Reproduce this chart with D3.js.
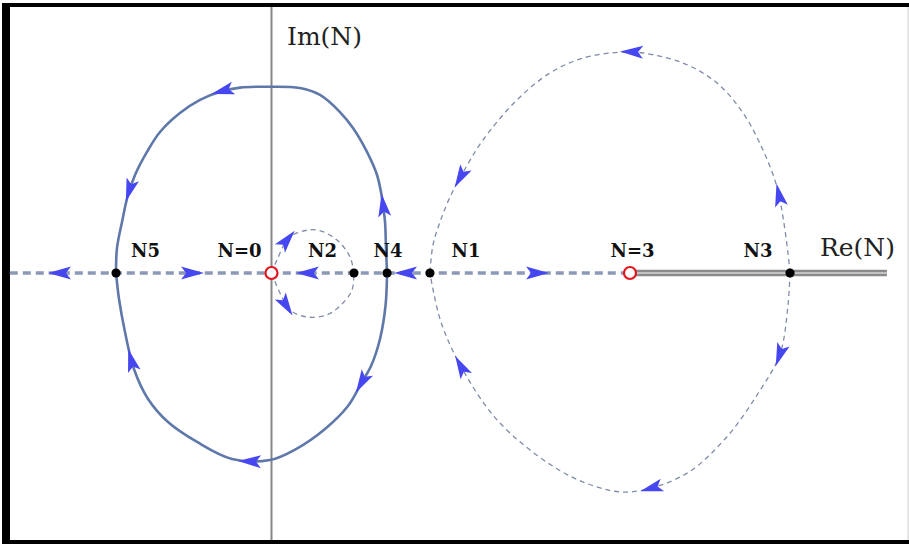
<!DOCTYPE html>
<html>
<head>
<meta charset="utf-8">
<style>
  body { margin: 0; background: #fff; }
  svg { display: block; }
  .lbl { font-family: 'DejaVu Serif', serif; font-weight: bold; font-size: 18px; fill: #111; }
  .axlbl { font-family: 'DejaVu Serif', serif; font-size: 25px; fill: #222; }
  .solid { fill: none; stroke: #5f78aa; stroke-width: 2.6px; }
  .dashed { fill: none; stroke: #7f8ba8; stroke-width: 1.3px; stroke-dasharray: 5 4; }
  .reaxis { fill: none; stroke: #8c99b6; stroke-width: 3.6px; stroke-dasharray: 8 5; }
  .arrow { fill: #4747f2; }
</style>
</head>
<body>
<svg id="chart" width="909" height="544"></svg>
<script src="https://cdn.jsdelivr.net/npm/d3@7/dist/d3.min.js"></script>
<script>
  // points on the real axis (Re(N))
  const fixedNames = ["N5", "N2", "N4", "N1", "N3"];
  const fixedRe = [-1.301, 0.690, 0.967, 1.326, 4.339];
  const poleRe = [0, 3];

  // labels above the axis
  const labelNames = ["N5", "N=0", "N2", "N4", "N1", "N=3", "N3"];
  const labelRe = [-1.054, -0.268, 0.427, 0.975, 1.628, 3.021, 4.071];
  const labelIm = 0.134;

  // flow curves, [Re, Im], ordered in the direction of the flow
  const solidUpper = [[0.967, 0], [0.958, 0.209], [0.950, 0.427], [0.925, 0.628], [0.883, 0.820],
    [0.799, 1.013], [0.682, 1.213], [0.573, 1.347], [0.406, 1.490], [0.238, 1.548], [-0.013, 1.559],
    [-0.264, 1.551], [-0.431, 1.517], [-0.598, 1.448], [-0.766, 1.339], [-0.933, 1.180],
    [-1.042, 1.013], [-1.142, 0.820], [-1.201, 0.653], [-1.251, 0.427], [-1.293, 0.209], [-1.301, 0]];
  const solidLower = [[0.967, 0], [0.954, -0.276], [0.908, -0.552], [0.833, -0.778], [0.757, -0.912],
    [0.640, -1.113], [0.448, -1.305], [0.205, -1.473], [-0.013, -1.565], [-0.331, -1.556],
    [-0.623, -1.414], [-0.866, -1.247], [-1.033, -1.054], [-1.151, -0.803], [-1.226, -0.494],
    [-1.276, -0.218], [-1.301, 0]];
  const rightUpper = [[4.339, 0], [4.322, 0.167], [4.280, 0.469], [4.230, 0.720], [4.113, 1.029],
    [3.946, 1.339], [3.728, 1.590], [3.444, 1.757], [3.109, 1.841], [2.941, 1.849], [2.607, 1.799],
    [2.331, 1.674], [2.054, 1.448], [1.770, 1.113], [1.603, 0.841], [1.494, 0.636], [1.410, 0.427],
    [1.351, 0.234], [1.326, 0]];
  const rightLower = [[4.339, 0], [4.322, -0.268], [4.255, -0.678], [4.079, -0.996], [3.795, -1.389],
    [3.452, -1.690], [2.992, -1.833], [2.674, -1.774], [2.339, -1.607], [1.904, -1.247],
    [1.611, -0.828], [1.418, -0.410], [1.326, 0]];
  const smallUpper = [[0, 0], [0.046, 0.109], [0.130, 0.276], [0.213, 0.335], [0.381, 0.360],
    [0.548, 0.276], [0.657, 0.134], [0.690, 0]];
  const smallLower = [[0, 0], [0.071, -0.167], [0.155, -0.310], [0.297, -0.368], [0.464, -0.351],
    [0.598, -0.251], [0.674, -0.142], [0.690, 0]];

  // arrowheads on curves: [curve, Re, Im]
  const curveArrows = [["solidUpper", 0.908, 0.560], ["solidUpper", -0.414, 1.548], ["solidUpper", -1.184, 0.695],
    ["solidLower", 0.757, -0.912], ["solidLower", -0.180, -1.573], ["solidLower", -1.159, -0.728],
    ["rightUpper", 4.255, 0.653], ["rightUpper", 3.017, 1.849], ["rightUpper", 1.594, 0.795],
    ["rightLower", 4.255, -0.686], ["rightLower", 3.184, -1.799], ["rightLower", 1.594, -0.778],
    ["smallUpper", 0.130, 0.276], ["smallLower", 0.130, -0.268]];
  // arrowheads on the real axis: [Re, direction]
  const axisArrows = [[-1.770, -1], [-0.665, 1], [0.305, -1], [1.126, -1], [2.222, 1]];

  const reAxisStart = -2.19;
  const cutEnd = 5.15;

  const svg = d3.select("#chart");
  const W = +svg.attr("width"), H = +svg.attr("height");

  const x = d3.scaleLinear().domain([0, 3]).range([271.5, 630]);
  const y = d3.scaleLinear().domain([0, 1]).range([273, 273 - 119.5]);

  // frame
  svg.append("rect").attr("x", 2).attr("y", 3).attr("width", 8).attr("height", H - 3).attr("fill", "#000");
  svg.append("rect").attr("x", 2).attr("y", 3).attr("width", W - 2).attr("height", 4).attr("fill", "#000");
  svg.append("rect").attr("x", 2).attr("y", 540).attr("width", W - 2).attr("height", 4).attr("fill", "#000");
  svg.append("line").attr("x1", W - 1).attr("x2", W - 1).attr("y1", 7).attr("y2", 540)
      .attr("stroke", "#ccc").attr("stroke-width", 1);

  // imaginary axis
  svg.append("line")
      .attr("x1", x(0)).attr("x2", x(0)).attr("y1", 7).attr("y2", 540)
      .attr("stroke", "#858585").attr("stroke-width", 2);

  // branch cut (double line)
  svg.append("line")
      .attr("x1", x(3)).attr("x2", x(cutEnd)).attr("y1", y(0)).attr("y2", y(0))
      .attr("stroke", "#8a8a8a").attr("stroke-width", 6.5);
  svg.append("line")
      .attr("x1", x(3)).attr("x2", x(cutEnd)).attr("y1", y(0)).attr("y2", y(0))
      .attr("stroke", "#d6d6d6").attr("stroke-width", 1.6);

  // dashed real axis
  svg.append("line")
      .attr("class", "reaxis")
      .attr("x1", x(reAxisStart)).attr("x2", x(3)).attr("y1", y(0)).attr("y2", y(0));

  const line = d3.line()
      .x(d => x(d[0]))
      .y(d => y(d[1]))
      .curve(d3.curveCatmullRom.alpha(0.5));

  const curves = {
    solidUpper: { data: solidUpper, cls: "solid" },
    solidLower: { data: solidLower, cls: "solid" },
    rightUpper: { data: rightUpper, cls: "dashed" },
    rightLower: { data: rightLower, cls: "dashed" },
    smallUpper: { data: smallUpper, cls: "dashed" },
    smallLower: { data: smallLower, cls: "dashed" }
  };

  Object.keys(curves).forEach(function(k) {
    curves[k].node = svg.append("path")
        .datum(curves[k].data)
        .attr("class", curves[k].cls)
        .attr("d", line)
        .node();
  });

  const arrowShape = "M12,0 L-11,-6.5 L-6,0 L-11,6.5 Z";

  function arrowAt(px, py, angle) {
    svg.append("path")
        .attr("class", "arrow")
        .attr("d", arrowShape)
        .attr("transform", `translate(${px},${py}) rotate(${angle})`);
  }

  // place each arrowhead on the nearest point of its curve, along the tangent
  curveArrows.forEach(function(a) {
    const node = curves[a[0]].node;
    const len = node.getTotalLength();
    const tx = x(a[1]), ty = y(a[2]);
    let best = 0, bestD = Infinity;
    for (let l = 0; l <= len; l += 0.5) {
      const p = node.getPointAtLength(l);
      const d = (p.x - tx) * (p.x - tx) + (p.y - ty) * (p.y - ty);
      if (d < bestD) { bestD = d; best = l; }
    }
    const p0 = node.getPointAtLength(Math.max(0, best - 2));
    const p1 = node.getPointAtLength(Math.min(len, best + 2));
    const c = node.getPointAtLength(best);
    const ang = Math.atan2(p1.y - p0.y, p1.x - p0.x) * 180 / Math.PI;
    arrowAt(c.x, c.y, ang);
  });

  axisArrows.forEach(function(a) {
    arrowAt(x(a[0]), y(0), a[1] > 0 ? 0 : 180);
  });

  // fixed points
  svg.selectAll(".dot")
    .data(fixedRe)
    .join("circle")
      .attr("class", "dot")
      .attr("cx", d => x(d))
      .attr("cy", y(0))
      .attr("r", 4.6)
      .attr("fill", "#000");

  // poles
  svg.selectAll(".pole")
    .data(poleRe)
    .join("circle")
      .attr("class", "pole")
      .attr("cx", d => x(d))
      .attr("cy", y(0))
      .attr("r", 6)
      .attr("fill", "#fff")
      .attr("stroke", "#e3141c")
      .attr("stroke-width", 2.2);

  // labels
  svg.selectAll(".lbl")
    .data(labelNames)
    .join("text")
      .attr("class", "lbl")
      .attr("x", (d, i) => x(labelRe[i]))
      .attr("y", y(labelIm))
      .attr("text-anchor", "middle")
      .text(d => d);

  svg.append("text").attr("class", "axlbl")
      .attr("x", x(0.13)).attr("y", y(1.908))
      .text("Im(N)");
  svg.append("text").attr("class", "axlbl")
      .attr("x", x(4.59)).attr("y", y(0.142))
      .text("Re(N)");
</script>
</body>
</html>
